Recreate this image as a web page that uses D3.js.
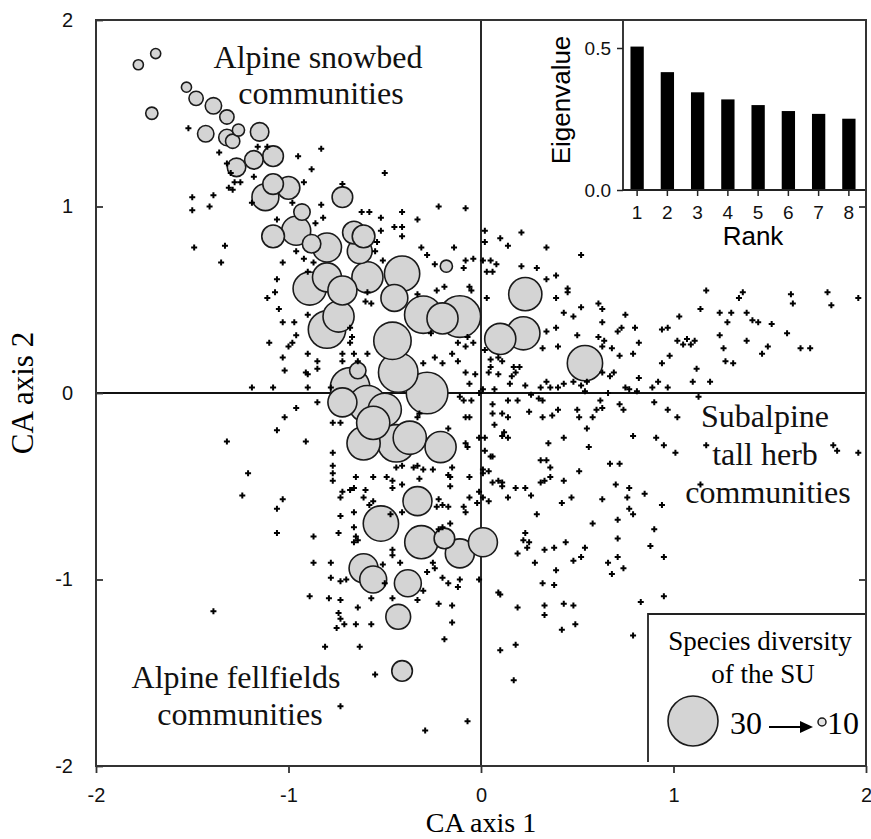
<!DOCTYPE html>
<meta charset="utf-8">
<title>CA ordination of sampling units</title>
<style>
body { margin: 0; background: #fff; }
</style>
<script src="https://d3js.org/d3.v7.min.js"></script>
<div id="chart"></div>
<script>

// sampling units (grey circles): CA axis 1, CA axis 2, species diversity
var suX = [-1.78,-1.69,-1.71,-1.53,-1.48,-1.39,-1.32,-1.26,-1.43,-1.32,-1.29,-1.15,-1.18,-1.08,-1.27,-1.12,-1.08,-1.00,-0.72,-0.93,
           -1.08,-0.96,-0.88,-0.80,-0.66,-0.61,-0.63,-0.59,-0.80,-0.89,-0.72,-0.74,-0.80,-0.41,-0.45,-0.30,-0.20,-0.11,-0.46,-0.43,
           -0.28,-0.64,-0.68,-0.72,-0.59,-0.50,-0.18,0.23,0.10,0.22,0.54,-0.21,-0.61,-0.56,-0.44,-0.37,-0.33,-0.52,-0.31,-0.19,
           -0.11,0.01,-0.61,-0.56,-0.38,-0.43,-0.41];
var suY = [1.76,1.82,1.50,1.64,1.58,1.54,1.48,1.41,1.39,1.37,1.35,1.40,1.25,1.27,1.21,1.05,1.12,1.10,1.05,0.97,
           0.84,0.87,0.80,0.78,0.86,0.84,0.76,0.62,0.62,0.56,0.55,0.41,0.34,0.64,0.51,0.42,0.40,0.41,0.28,0.11,
           0.00,0.12,0.03,-0.05,-0.06,-0.09,0.68,0.53,0.29,0.32,0.16,-0.29,-0.27,-0.16,-0.27,-0.24,-0.58,-0.70,-0.80,-0.78,
           -0.86,-0.80,-0.94,-1.00,-1.02,-1.20,-1.49];
var suRich = [11,11,12,11,13,14,13,12,14,14,13,15,15,16,15,19,16,17,16,14,
              17,20,15,20,17,17,18,21,20,22,20,21,24,23,19,24,21,26,24,25,
              26,14,25,20,24,22,12,22,21,22,23,21,22,22,24,22,20,23,22,16,
              20,20,20,19,19,18,16];

// species (small crosses): CA axis 1, CA axis 2
var speciesXY = [
 [-1.52,1.42],[-1.36,1.29],[-1.32,1.23],[-1.30,1.18],[-1.28,1.13],[-1.29,1.09],[-1.31,1.10],[-1.25,1.13],[-1.18,1.16],[-1.16,1.32],
 [-1.11,1.32],[-0.95,1.27],[-1.50,1.05],[-1.50,0.98],[-1.41,1.00],[-1.39,1.06],[-1.06,0.93],[-1.19,1.02],[-1.49,0.78],[-1.33,0.79],
 [-0.98,1.02],[-1.35,0.70],[-0.83,1.01],[-0.82,0.94],[-0.86,0.91],[-0.72,1.12],[-0.62,0.97],[-0.58,0.97],[-0.52,0.94],[-0.41,0.97],
 [-0.33,0.93],[-0.22,1.00],[-0.45,0.89],[-0.41,0.89],[-0.41,0.84],[-0.52,0.87],[-0.54,0.81],[-0.55,0.76],[-0.51,0.71],[-0.31,0.78],
 [-0.28,0.74],[-0.24,0.69],[-0.23,0.55],[-0.19,0.57],[-0.33,0.53],[-0.96,0.76],[-0.92,0.72],[-1.03,0.70],[-1.06,0.61],[-1.07,0.54],
 [-1.11,0.51],[-0.87,0.70],[-0.90,0.65],[-1.05,0.45],[-1.03,0.38],[-0.97,0.38],[-0.96,0.31],[-0.90,0.42],[-0.98,0.27],[-1.00,0.25],
 [-1.10,0.27],[-1.03,0.19],[-1.02,0.12],[-0.90,0.21],[-0.85,0.17],[-0.85,0.13],[-0.91,0.11],[-0.90,0.10],[-0.90,0.03],[-1.08,0.03],
 [-1.19,0.03],[-0.85,-0.05],[-0.96,-0.08],[-1.02,-0.13],[-1.06,-0.20],[-0.72,0.21],[-0.66,0.21],[-0.59,0.21],[-0.68,0.27],[-0.67,0.30],
 [-0.68,0.35],[-0.60,0.49],[-0.57,0.48],[-0.59,0.54],[-0.72,0.17],[-0.64,0.17],[-0.30,0.16],[-0.24,0.19],[-0.20,0.16],[-0.26,0.32],
 [-0.78,0.03],[-0.91,-0.26],[-0.77,-0.16],[-0.73,-0.16],[-0.77,-0.32],[-0.77,-0.39],[-0.77,-0.43],[-0.77,-0.47],[-0.72,-0.53],[-0.73,-0.56],
 [-0.68,-0.52],[-0.60,-0.52],[-0.61,-0.56],[-0.65,-0.45],[-0.56,-0.45],[-0.49,-0.45],[-0.46,-0.47],[-0.41,-0.49],[-0.46,-0.51],[-0.44,-0.40],
 [-0.41,-0.39],[-0.35,-0.40],[-0.30,-0.41],[-0.32,-0.46],[-0.25,-0.41],[-0.15,-0.40],[-0.16,-0.45],[-0.16,-0.50],[-0.17,-0.19],[-0.32,-0.11],
 [-0.33,-0.13],[-0.33,-0.39],[-0.06,-0.45],[-0.08,-0.13],[-0.06,-0.13],[-0.08,-0.27],[-0.07,-0.29],[-0.09,-0.04],[-0.05,-0.04],[-0.01,0.00],
 [-0.01,-0.24],[0.02,-0.24],[0.02,-0.31],[0.06,-0.34],[0.06,-0.06],[0.06,-0.11],[0.14,-0.13],[0.12,-0.21],[0.14,-0.24],[0.25,-0.10],
 [0.32,-0.13],[0.35,-0.27],[0.31,-0.36],[0.34,-0.36],[0.33,-0.47],[0.09,-0.47],[0.06,-0.48],[0.01,-0.43],[0.04,-0.42],[-0.01,-0.53],
 [0.01,-0.56],[0.11,-0.50],[0.14,-0.56],[0.18,-0.51],[0.23,-0.51],[0.26,-0.55],[0.04,-0.58],[-0.02,-0.59],[-0.06,-0.56],[-0.09,-0.61],
 [-0.08,-0.64],[-0.17,-0.61],[-0.20,-0.60],[-0.22,-0.57],[-0.23,-0.61],[-0.41,-0.64],[-0.47,-0.65],[-0.56,-0.58],[-0.58,-0.60],[-0.66,-0.64],
 [-0.73,-0.66],[-0.74,-0.75],[-0.66,-0.72],[-0.65,-0.77],[-0.64,-0.79],[-0.66,-0.80],[-0.46,-0.84],[-0.46,-0.87],[-0.42,-0.91],[-0.51,-0.92],
 [-0.25,-0.91],[-0.24,-0.94],[-0.28,-0.96],[-0.16,-0.70],[-0.20,-0.72],[-0.22,-0.73],[-1.03,-0.57],[-1.06,-0.62],[-1.06,-0.75],[-0.87,-0.77],
 [-0.87,-0.91],[-0.78,-0.91],[-0.78,-0.99],[-0.70,-1.00],[-0.73,-1.01],[-0.50,-1.02],[-0.30,-1.06],[-0.20,-0.99],[-0.17,-1.02],[-0.11,-1.00],
 [-0.12,-1.04],[-0.01,-1.00],[0.09,-1.07],[0.19,-0.86],[0.24,-0.83],[0.22,-0.79],[0.23,-0.75],[0.28,-0.91],[0.33,-0.84],[0.32,-1.02],
 [-0.89,-1.09],[-0.79,-1.10],[-0.73,-1.11],[-0.64,-1.15],[-0.74,-1.18],[-0.73,-1.21],[-0.75,-1.26],[-0.71,-1.24],[-0.65,-1.24],[-0.57,-1.24],
 [-0.57,-1.10],[-0.46,-1.10],[-0.33,-1.11],[-0.22,-1.13],[-0.15,-1.14],[-0.15,-1.23],[-0.19,-1.32],[-0.81,-1.36],[-0.63,-1.36],[-0.55,-1.51],
 [0.10,-1.38],[0.18,-1.35],[0.19,-1.15],[0.33,-1.14],[0.33,-1.19],[-1.32,-0.26],[-1.21,-0.43],[-1.24,-0.55],[-1.39,-1.17],[-0.73,-1.68],
 [-0.66,-0.51],[-0.29,-1.81],[-0.07,-1.76],[0.17,-1.54],
 [-0.08,0.99],[-0.14,0.78],[0.02,0.87],[0.02,0.81],[0.10,0.83],[0.14,0.79],[0.21,0.86],[0.34,0.78],[0.52,0.74],[-0.08,0.71],
 [-0.09,0.67],[-0.04,0.72],[0.01,0.71],[0.05,0.71],[0.08,0.69],[0.03,0.65],[0.06,0.65],[0.21,0.68],[0.29,0.67],[0.39,0.63],
 [0.34,0.61],[0.45,0.56],[0.45,0.54],[0.39,0.51],[-0.05,0.55],[-0.06,0.57],[0.03,0.51],[0.43,0.43],[0.48,0.41],[0.52,0.46],
 [0.61,0.48],[0.63,0.45],[0.75,0.42],[0.80,0.35],[0.73,0.35],[0.71,0.33],[0.82,0.27],[0.63,0.38],[0.64,0.28],[0.61,0.30],
 [0.50,0.31],[0.39,0.35],[0.34,0.33],[0.32,0.24],[0.40,0.25],[0.63,0.25],[0.68,0.24],[0.72,0.20],[0.79,0.21],[0.69,0.11],
 [0.67,0.09],[0.63,0.11],[0.55,0.06],[0.52,0.04],[0.48,0.06],[0.43,0.05],[0.40,0.03],[0.36,0.03],[0.34,0.06],[0.31,0.03],
 [0.26,-0.01],[0.30,-0.03],[0.23,0.04],[0.15,0.05],[0.16,0.09],[0.18,0.11],[0.20,0.14],[0.17,0.14],[0.11,0.17],[0.05,0.14],
 [0.05,0.18],[0.02,0.23],[0.04,0.11],[0.09,0.10],[0.07,0.02],[0.01,0.02],[0.14,-0.04],[0.19,-0.04],[0.32,-0.04],[0.54,0.01],
 [0.66,0.00],[0.62,-0.04],[0.63,-0.08],[0.60,-0.09],[0.75,0.03],[0.77,0.02],[0.81,0.01],[0.82,0.08],[0.72,-0.06],[0.74,-0.09],
 [0.89,0.03],[0.97,0.03],[0.92,0.06],[0.98,0.20],[0.94,0.16],[0.94,0.34],[0.97,0.35],[1.03,0.41],[1.02,0.28],[1.05,0.26],
 [1.09,0.26],[1.07,0.29],[1.11,0.28],[1.12,0.13],[1.10,0.06],[1.19,0.06],[1.14,0.45],[1.17,0.55],[1.24,0.43],[1.24,0.31],
 [1.26,0.24],[1.27,0.17],[1.31,0.16],[1.30,0.43],[1.28,0.38],[1.34,0.51],[1.36,0.54],[1.38,0.43],[1.41,0.39],[1.44,0.38],
 [1.38,0.28],[1.46,0.21],[1.49,0.25],[1.51,0.37],[1.59,0.32],[1.61,0.53],[1.62,0.48],[1.66,0.24],[1.71,0.24],[1.80,0.54],
 [1.82,0.47],[1.96,0.51],[1.13,-0.02],[0.90,-0.05],[0.97,-0.09],[1.02,-0.13],[0.79,-0.23],[0.91,-0.24],[0.95,-0.28],[1.01,-0.32],
 [1.17,-0.28],[1.83,-0.28],[1.85,-0.31],[1.96,-0.32],[0.67,-0.38],[0.72,-0.38],[0.56,-0.29],[0.55,-0.19],[0.58,-0.13],[0.51,-0.13],
 [0.50,-0.09],[0.40,-0.09],[0.37,-0.12],[0.43,-0.24],[0.51,-0.42],[0.36,-0.40],[0.11,-0.11],[0.07,-0.17],[0.11,-0.23],[0.05,-0.34],
 [0.01,-0.41],[-0.17,-0.44],[-0.11,-0.02],[-0.03,0.10],[-0.08,0.11],[-0.06,0.05],[-0.12,0.17],[-0.15,0.21],[-0.08,0.25],[-0.12,0.27],
 [-0.04,0.27],[-0.07,0.30],[0.09,0.19],
 [0.11,-0.48],[0.31,-0.48],[0.36,-0.45],[0.43,-0.47],[0.42,-0.59],[0.47,-0.56],[0.70,-0.49],[0.77,-0.51],[0.85,-0.54],[0.76,-0.56],
 [0.63,-0.57],[0.77,-0.62],[0.79,-0.65],[0.94,-0.60],[1.14,-0.49],[0.29,-0.65],[0.25,-0.80],[0.38,-0.83],[0.44,-0.80],[0.39,-0.95],
 [0.48,-0.90],[0.52,-0.88],[0.54,-0.83],[0.58,-0.70],[0.71,-0.68],[0.71,-0.78],[0.66,-0.91],[0.68,-0.97],[0.71,-0.88],[0.74,-0.94],
 [0.90,-0.73],[0.88,-0.82],[0.95,-0.88],[0.38,-1.03],[0.10,-1.08],[0.43,-1.13],[0.48,-1.14],[0.49,-1.24],[0.42,-1.27],[0.83,-1.12],
 [0.95,-1.09],[0.79,-1.30],
 [-0.83,1.31],[-0.88,1.20],[-0.50,1.18],[-0.92,1.13]
];

// inset: eigenvalues of the first CA axes
var eigenRank = [1, 2, 3, 4, 5, 6, 7, 8];
var eigenValue = [0.505, 0.415, 0.344, 0.319, 0.299, 0.278, 0.268, 0.251];
var eigenTicks = [0, 0.5];

var axisTicks = [-2, -1, 0, 1, 2];
var legendRich = [30, 10];

var width = 871, height = 839;
var sans = "'Liberation Sans', Arial, sans-serif",
    serif = "'Liberation Serif', 'Times New Roman', serif";

var svg = d3.select("#chart").append("svg")
    .attr("width", width)
    .attr("height", height);

var x = d3.scaleLinear().domain([-2, 2]).range([96, 866]),
    y = d3.scaleLinear().domain([-2, 2]).range([766, 20]),
    r = d3.scaleLinear().domain([10, 30]).range([4, 25]);

// zero lines
svg.append("line")
    .attr("x1", x(0)).attr("x2", x(0))
    .attr("y1", y(2)).attr("y2", y(-2))
    .attr("stroke", "#111").attr("stroke-width", 1.8);
svg.append("line")
    .attr("x1", x(-2)).attr("x2", x(2))
    .attr("y1", y(0)).attr("y2", y(0))
    .attr("stroke", "#111").attr("stroke-width", 1.8);

// sampling units, big ones underneath
var su = d3.range(suX.length).map(function(i) {
  return {x: suX[i], y: suY[i], n: suRich[i]};
}).sort(function(a, b) { return b.n - a.n; });

svg.append("g").selectAll("circle")
    .data(su)
    .enter().append("circle")
    .attr("cx", function(d) { return x(d.x); })
    .attr("cy", function(d) { return y(d.y); })
    .attr("r", function(d) { return r(d.n); })
    .attr("fill", "#d4d4d4")
    .attr("stroke", "#1a1a1a")
    .attr("stroke-width", 1.6);

// species
var cross = d3.symbol().type(d3.symbolCross).size(20);
svg.append("g").selectAll("path")
    .data(speciesXY)
    .enter().append("path")
    .attr("d", cross)
    .attr("transform", function(d) { return "translate(" + x(d[0]) + "," + y(d[1]) + ")"; })
    .attr("fill", "#000");

// axes
var xAxis = svg.append("g")
    .attr("transform", "translate(0," + y(-2) + ")")
    .call(d3.axisBottom(x).tickValues(axisTicks).tickSize(7).tickFormat(function(d) { return String(d); }));
var yAxis = svg.append("g")
    .attr("transform", "translate(" + x(-2) + ",0)")
    .call(d3.axisLeft(y).tickValues(axisTicks).tickSize(-7).tickFormat(function(d) { return String(d); }));
var yAxisR = svg.append("g")
    .attr("transform", "translate(" + x(2) + ",0)")
    .call(d3.axisRight(y).tickValues([-1, 1]).tickSize(-7).tickFormat(""));

[xAxis, yAxis, yAxisR].forEach(function(g) {
  g.select(".domain").remove();
  g.selectAll("line").attr("stroke", "#333").attr("stroke-width", 1.8);
  g.selectAll("text").attr("font-family", sans).attr("font-size", 20).attr("fill", "#111");
});
xAxis.selectAll("text").attr("y", 36).attr("dy", 0);
yAxis.selectAll("text").attr("x", -23);

// inset bar chart
var bx = d3.scaleBand().domain(eigenRank).range([622, 864]).paddingInner(0.56).paddingOuter(0.28),
    by = d3.scaleLinear().domain([0, 0.5]).range([190, 48]);

svg.append("rect")
    .attr("x", 623).attr("y", y(2))
    .attr("width", x(2) - 623).attr("height", by(0) - y(2))
    .attr("fill", "#fff");

svg.append("g").selectAll("rect")
    .data(eigenValue)
    .enter().append("rect")
    .attr("x", function(d, i) { return bx(eigenRank[i]); })
    .attr("y", function(d) { return by(d); })
    .attr("width", bx.bandwidth())
    .attr("height", function(d) { return by(0) - by(d); })
    .attr("fill", "#000");

svg.append("line")
    .attr("x1", 623).attr("x2", 623)
    .attr("y1", y(2)).attr("y2", by(0))
    .attr("stroke", "#222").attr("stroke-width", 1.8);
svg.append("line")
    .attr("x1", 623).attr("x2", x(2))
    .attr("y1", by(0)).attr("y2", by(0))
    .attr("stroke", "#222").attr("stroke-width", 1.8);

var ibx = svg.append("g")
    .attr("transform", "translate(0," + by(0) + ")")
    .call(d3.axisBottom(bx).tickSize(6));
var iby = svg.append("g")
    .attr("transform", "translate(623,0)")
    .call(d3.axisLeft(by).tickValues(eigenTicks).tickSize(6).tickFormat(d3.format(".1f")));
[ibx, iby].forEach(function(g) {
  g.select(".domain").remove();
  g.selectAll("line").attr("stroke", "#222").attr("stroke-width", 1.5);
  g.selectAll("text").attr("font-family", sans).attr("font-size", 19).attr("fill", "#111");
});
ibx.selectAll("text").attr("y", 29).attr("dy", 0);
iby.selectAll("text").attr("x", -12);

svg.append("text")
    .attr("transform", "translate(570,100) rotate(-90)")
    .attr("text-anchor", "middle")
    .attr("font-family", sans).attr("font-size", 26)
    .text("Eigenvalue");
svg.append("text")
    .attr("x", 753).attr("y", 245)
    .attr("text-anchor", "middle")
    .attr("font-family", sans).attr("font-size", 26)
    .text("Rank");

// legend
svg.append("rect")
    .attr("x", 648).attr("y", 614)
    .attr("width", x(2) - 648).attr("height", y(-2) - 614)
    .attr("fill", "#fff");
svg.append("path")
    .attr("d", "M648,762V614H" + x(2))
    .attr("fill", "none").attr("stroke", "#222").attr("stroke-width", 1.8);
svg.append("text")
    .attr("x", 760).attr("y", 650)
    .attr("text-anchor", "middle")
    .attr("font-family", serif).attr("font-size", 27)
    .text("Species diversity");
svg.append("text")
    .attr("x", 763).attr("y", 683)
    .attr("text-anchor", "middle")
    .attr("font-family", serif).attr("font-size", 27)
    .text("of the SU");
svg.append("circle")
    .attr("cx", 693).attr("cy", 721).attr("r", r(legendRich[0]))
    .attr("fill", "#d4d4d4").attr("stroke", "#1a1a1a").attr("stroke-width", 1.6);
svg.append("circle")
    .attr("cx", 822).attr("cy", 722).attr("r", r(legendRich[1]))
    .attr("fill", "#e4e4e4").attr("stroke", "#1a1a1a").attr("stroke-width", 1.5);
svg.append("text")
    .attr("x", 730).attr("y", 734)
    .attr("font-family", serif).attr("font-size", 32)
    .text(legendRich[0]);
svg.append("text")
    .attr("x", 827).attr("y", 734)
    .attr("font-family", serif).attr("font-size", 32)
    .text(legendRich[1]);
svg.append("line")
    .attr("x1", 769).attr("x2", 803)
    .attr("y1", 727).attr("y2", 727)
    .attr("stroke", "#000").attr("stroke-width", 2);
svg.append("path")
    .attr("d", "M800,721L813,727L800,733Z")
    .attr("fill", "#000");

// frame
svg.append("rect")
    .attr("x", x(-2)).attr("y", y(2))
    .attr("width", x(2) - x(-2)).attr("height", y(-2) - y(2))
    .attr("fill", "none").attr("stroke", "#333").attr("stroke-width", 2);

// region labels
var labels = [
  {x: 318, y: 68, t: "Alpine snowbed"}, {x: 321, y: 104, t: "communities"},
  {x: 765, y: 427, t: "Subalpine"}, {x: 765, y: 465, t: "tall herb"}, {x: 768, y: 503, t: "communities"},
  {x: 236, y: 688, t: "Alpine fellfields"}, {x: 240, y: 725, t: "communities"}
];
svg.append("g").selectAll("text")
    .data(labels)
    .enter().append("text")
    .attr("x", function(d) { return d.x; })
    .attr("y", function(d) { return d.y; })
    .attr("text-anchor", "middle")
    .attr("font-family", serif).attr("font-size", 32).attr("fill", "#111")
    .text(function(d) { return d.t; });

// axis titles
svg.append("text")
    .attr("x", x(0)).attr("y", 832)
    .attr("text-anchor", "middle")
    .attr("font-family", serif).attr("font-size", 28)
    .text("CA axis 1");
svg.append("text")
    .attr("transform", "translate(33," + y(0) + ") rotate(-90)")
    .attr("text-anchor", "middle")
    .attr("font-family", serif).attr("font-size", 31)
    .text("CA axis 2");
</script>
